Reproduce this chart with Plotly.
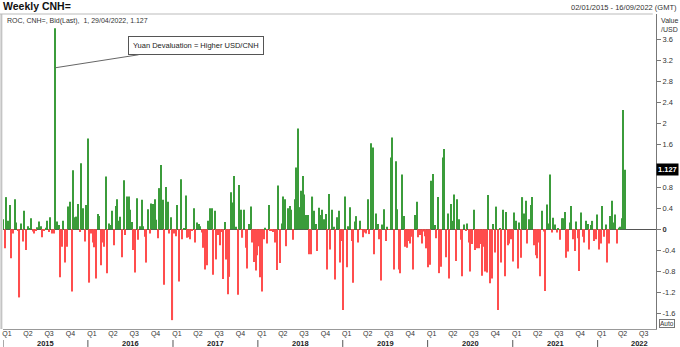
import plotly.graph_objects as go
import pandas as pd

# Weekly rate of change (%) of USD/CNH, week ending Fridays, last = 29/04/2022
VALUES = [
    0.19, -0.36, 0.61, 0.16, 0.46, -0.55, -0.08, 0.57, 0.13, -0.03,
    -1.29, 0.11, -0.23, 0.35, -0.39, 0.06, 0.02, 0.21, -0.04, -0.08,
    -0.03, 0.04, 0.15, 0.06, -0.15, -0.03, 0.03, 0.16, -0.05, 0.23,
    -0.08, -0.08, 3.81, 0.15, 0.08, -0.91, -0.33, 0.16, -0.63, -0.33,
    0.43, 0.52, -1.18, 1.12, 0.23, 0.24, 0.48, -0.05, 1.25, 0.40,
    -0.23, 0.46, 1.72, -1.01, -0.08, -0.25, -0.34, -0.93, 0.29, 0.25,
    -0.68, -0.25, -0.33, 1.00, -0.83, 0.11, 0.08, 0.35, -0.30, 0.44,
    0.57, 0.16, 0.24, -0.53, 0.93, -0.11, 0.62, 0.62, 0.37, 0.14,
    -0.39, -0.82, 0.59, -0.20, 0.06, 0.56, 0.06, -0.14, -0.63, 0.38,
    -0.08, 0.49, 0.48, 0.57, 0.18, -0.17, 0.78, 1.22, 0.56, -1.05,
    0.80, 0.52, -0.08, 0.23, -1.72, -0.08, -0.13, 0.46, -0.99, 0.95,
    -0.19, 0.02, 0.64, -0.16, -0.15, -0.19, -0.03, 0.40, -0.25, 0.13,
    0.10, 0.06, -0.06, -0.35, -0.76, -0.68, 0.16, 0.40, 0.40, -0.86,
    0.35, -0.57, -0.11, -0.30, -0.05, -0.94, 0.14, -0.57, -1.23, -0.90,
    0.70, 0.51, 1.01, 0.05, -1.24, 0.84, 0.37, -0.16, 0.37, -0.35,
    -0.74, 0.10, 0.43, -0.25, -0.62, -0.78, -0.49, -0.32, -0.91, -1.18,
    -0.19, 0.03, -0.27, 0.46, -0.03, -0.02, -0.05, -0.25, -0.77, 0.83,
    -0.64, 0.11, 0.62, 0.57, -0.32, 0.40, 0.44, 0.37, -0.20, 0.57,
    1.17, 1.91, 0.42, 0.73, 1.01, 0.66, 0.27, 0.27, -0.47, -0.47,
    0.62, 0.35, 0.10, -0.41, 0.41, 0.27, 0.37, 0.19, 0.29, -0.76,
    0.67, -0.38, 0.37, 0.05, -0.95, 0.23, 0.35, -0.63, -0.22, -1.53,
    0.62, -0.72, 0.06, 0.42, -0.22, -1.01, 0.15, 0.25, -0.25, 0.16,
    -0.01, -0.15, -0.06, -0.08, 0.57, -0.09, 1.63, 1.55, -0.47, 0.30,
    0.10, -0.19, -0.97, 0.09, 0.38, -0.22, 0.05, -0.01, 1.36, 1.74,
    -0.76, 1.29, 0.38, -0.76, -0.83, 1.04, 0.25, -0.33, -0.35, -0.22,
    -0.27, -0.14, -0.76, 0.27, 0.52, -0.15, -0.11, -0.27, -0.04, -0.13,
    -0.36, -0.72, -0.67, 0.92, 1.05, 0.08, -0.17, 0.61, -0.83, -0.71,
    1.36, 1.52, -0.53, 0.30, -0.93, 0.48, 0.16, 0.66, -0.60, 0.57,
    0.19, -0.20, -0.89, 0.09, -0.02, 0.11, -0.25, -0.80, -0.28, 0.37,
    -0.39, -0.36, -0.36, -0.28, -0.88, -0.33, -0.80, -0.82, 0.65, -1.02,
    -0.93, 0.10, -0.44, 0.43, -1.53, 0.02, -0.63, 0.37, -0.89, 0.33,
    -0.30, -0.27, -0.19, -0.61, 0.32, 0.16, -0.74, 0.13, -0.54, 0.61,
    0.30, 0.54, -0.27, 0.19, 0.46, 0.61, -0.30, -0.49, -0.55, -0.25,
    -0.89, 0.35, -0.04, -1.17, 0.47, 0.11, 1.04, -0.06, 0.22, 0.09,
    -0.06, 0.02, -0.20, 0.21, 0.21, 0.33, -0.54, -0.42, 0.13, 0.44,
    -0.19, -0.41, 0.15, -0.17, -0.79, 0.32, -0.14, -0.25, 0.16, 0.10,
    -0.38, 0.08, 0.16, -0.22, -0.19, 0.28, -0.38, -0.27, 0.44, -0.14,
    0.09, -0.63, -0.27, 0.25, 0.54, 0.13, 0.28, -0.27, 0.03, 0.05,
    0.21, 2.26, 1.127,
]
LAST_DATE = "2022-04-29"

Y_TICKS = [-1.6, -1.2, -0.8, -0.4, 0, 0.4, 0.8, 1.2, 1.6, 2, 2.4, 2.8, 3.2, 3.6]
Y_TICK_TEXT = ["-1.6", "-1.2", "-0.8", "-0.4", "<b>0</b>", "0.4", "0.8", "1.2",
               "1.6", "2", "2.4", "2.8", "3.2", "3.6"]
YEARS = [2015, 2016, 2017, 2018, 2019, 2020, 2021, 2022]
QUARTER_LABELS = ["Q1", "Q2", "Q3", "Q4"]

GREEN = "#3b9c3b"
RED = "#ff4d4d"
FONT = "Liberation Sans, Arial, sans-serif"

dates = pd.date_range(end=LAST_DATE, periods=len(VALUES), freq="7D")
colors = [GREEN if v >= 0 else RED for v in VALUES]

q_starts = pd.date_range("2015-01-01", "2022-07-01", freq="QS")
q_text = [QUARTER_LABELS[(d.month - 1) // 3] for d in q_starts]

fig = go.Figure(go.Bar(
    x=dates, y=VALUES,
    marker=dict(color=colors, line=dict(width=0)),
    width=4.6 * 86400000,
    hoverinfo="x+y",
))

annotations = [
    dict(text="<b>Weekly CNH=</b>", xref="paper", yref="paper", x=-0.003, y=1.0,
         xanchor="left", yanchor="bottom", showarrow=False,
         font=dict(size=10.5, color="#111", family=FONT)),
    dict(text="02/01/2015 - 16/09/2022 (GMT)", xref="paper", yref="paper",
         x=1.0, xshift=23, y=1.0, xanchor="right", yanchor="bottom", showarrow=False,
         font=dict(size=7.5, color="#333", family=FONT)),
    dict(text="ROC, CNH=, Bid(Last),  1, 29/04/2022, 1.127", xref="paper", yref="paper",
         x=0.0, xshift=2, y=1.0, yshift=-1, xanchor="left", yanchor="top", showarrow=False,
         font=dict(size=7, color="#333", family=FONT)),
    dict(text="Value<br>/USD", xref="paper", yref="paper", x=1.0, xshift=3, y=1.0,
         yshift=-1, xanchor="left", yanchor="top", align="left", showarrow=False,
         font=dict(size=7, color="#333", family=FONT)),
    dict(text="<b>1.127</b>", xref="paper", yref="y", x=1.0, xshift=0, y=VALUES[-1],
         xanchor="left", yanchor="middle", showarrow=False, bgcolor="#000",
         borderpad=1, font=dict(size=7.5, color="#fff", family=FONT)),
    dict(text="Auto", xref="paper", yref="paper", x=1.0, xshift=3, y=0.0, yshift=1,
         xanchor="left", yanchor="bottom", showarrow=False, bordercolor="#777",
         borderwidth=1, borderpad=0, font=dict(size=6.5, color="#333", family=FONT)),
    dict(text="Yuan Devaluation = Higher USD/CNH", xref="x", yref="y",
         x=dates[32], y=3.06, ax=141, ay=-22, showarrow=True, arrowhead=0,
         arrowwidth=1, arrowcolor="#666", bordercolor="#555", borderwidth=1,
         borderpad=4, bgcolor="#fff", font=dict(size=7.5, color="#222", family=FONT)),
]
for yr in YEARS:
    annotations.append(dict(
        text=f"<b>{yr}</b>", xref="x", yref="paper", x=f"{yr}-07-02", y=-0.0455,
        xanchor="center", yanchor="middle", showarrow=False,
        font=dict(size=7.5, color="#222", family=FONT)))

shapes = [
    dict(type="line", xref="paper", yref="paper", x0=-0.0025, x1=-0.0025, y0=0, y1=1,
         line=dict(color="#c4c4c4", width=2)),
    dict(type="line", xref="paper", yref="paper", x0=-0.005, x1=0.995, y0=1, y1=1,
         line=dict(color="#bbbbbb", width=1)),
]
for yr in YEARS:
    shapes.append(dict(type="line", xref="x", yref="paper", x0=f"{yr}-01-01",
                       x1=f"{yr}-01-01", y0=-0.035, y1=-0.057,
                       line=dict(color="#555", width=1)))

fig.update_layout(
    width=680, height=347,
    margin=dict(l=3, r=24, t=14, b=18),
    paper_bgcolor="#fff", plot_bgcolor="#fff",
    showlegend=False,
    font=dict(family=FONT, size=7.5, color="#333"),
    annotations=annotations,
    shapes=shapes,
    xaxis=dict(
        type="date", range=["2015-01-01", "2022-09-09"],
        showgrid=False, zeroline=False, showline=True, linecolor="#999", linewidth=1,
        tickvals=list(q_starts), ticktext=q_text, ticks="", ticklabelshift=4,
        ticklabelstandoff=-2,
        tickfont=dict(size=7, color="#333", family=FONT),
    ),
    yaxis=dict(
        side="right", range=[-1.888, 4.078],
        tickvals=Y_TICKS, ticktext=Y_TICK_TEXT,
        ticks="outside", ticklen=4, tickcolor="#777",
        showline=True, linecolor="#777", linewidth=1,
        showgrid=False, zeroline=True, zerolinecolor="#555", zerolinewidth=1,
        tickfont=dict(size=7.5, color="#333", family=FONT),
    ),
)

fig.write_html("out.html")
